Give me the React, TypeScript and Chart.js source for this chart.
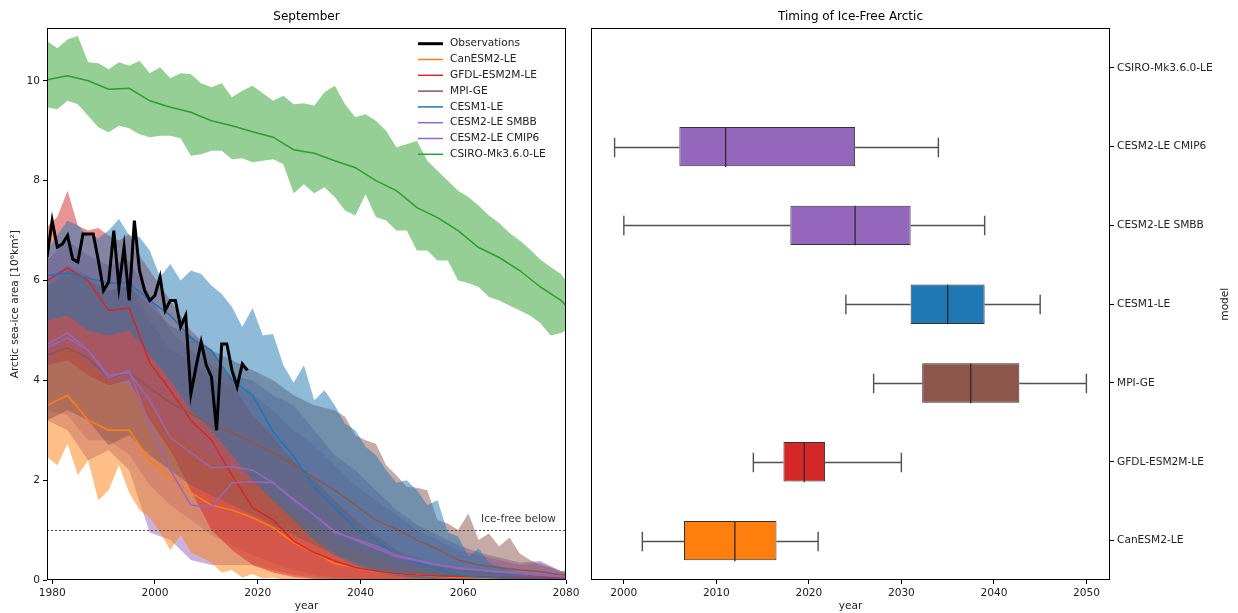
import React, { useEffect, useRef } from 'react';
import { Chart, registerables } from 'chart.js';
Chart.register(...registerables);

const FONT = 'DejaVu Sans';
const TXT = '#222';

// ---------------- Left panel data ----------------
const years = [1979, 1983, 1987, 1991, 1995, 1999, 2003, 2007, 2011, 2015, 2019, 2023, 2027, 2031, 2035, 2039, 2043, 2047, 2051, 2055, 2059, 2063, 2067, 2071, 2075, 2079, 2080];
const yearsFine = [1979, 1981, 1983, 1985, 1987, 1989, 1991, 1993, 1995, 1997, 1999, 2001, 2003, 2005, 2007, 2009, 2011, 2013, 2015, 2017, 2019, 2021, 2023, 2025, 2027, 2029, 2031, 2033, 2035, 2037, 2039, 2041, 2043, 2045, 2047, 2049, 2051, 2053, 2055, 2057, 2059, 2061, 2063, 2065, 2067, 2069, 2071, 2073, 2075, 2077, 2079, 2080];

const obsYears = [1979, 1980, 1981, 1982, 1983, 1984, 1985, 1986, 1987, 1988, 1989, 1990, 1991, 1992, 1993, 1994, 1995, 1996, 1997, 1998, 1999, 2000, 2001, 2002, 2003, 2004, 2005, 2006, 2007, 2008, 2009, 2010, 2011, 2012, 2013, 2014, 2015, 2016, 2017, 2018];
const obsValues = [6.47, 7.2, 6.67, 6.73, 6.9, 6.43, 6.37, 6.93, 6.93, 6.93, 6.4, 5.8, 5.97, 7.0, 5.87, 6.67, 5.6, 7.2, 6.2, 5.8, 5.6, 5.7, 6.07, 5.4, 5.6, 5.6, 5.07, 5.3, 3.73, 4.27, 4.77, 4.3, 4.07, 3.0, 4.73, 4.73, 4.2, 3.87, 4.33, 4.2];

// CanESM2-LE (low edge on the fine grid)
const canMean = [3.5, 3.7, 3.2, 3.0, 3.0, 2.4, 2.05, 1.75, 1.5, 1.4, 1.25, 1.05, 0.75, 0.55, 0.33, 0.25, 0.17, 0.13, 0.1, 0.07, 0.05, 0.04, 0.03, 0.03, 0.02, 0.02, 0.02];
const canLow = [2.47, 2.3, 2.73, 2.1, 2.4, 1.6, 1.8, 2.3, 1.75, 1.4, 1.25, 0.95, 0.6, 0.9, 0.55, 0.45, 0.35, 0.15, 0.2, 0.05, 0.12, 0.03, 0.05, 0, 0, 0, 0, 0, 0, 0, 0, 0, 0, 0, 0, 0, 0, 0, 0, 0, 0, 0, 0, 0, 0, 0, 0, 0, 0, 0, 0, 0];
const canHigh = [4.3, 4.7, 4.3, 4.0, 3.9, 3.5, 3.0, 2.7, 2.4, 2.2, 2.0, 1.7, 1.4, 1.1, 0.8, 0.6, 0.45, 0.3, 0.25, 0.2, 0.15, 0.1, 0.08, 0.06, 0.05, 0.05, 0.05];

// GFDL-ESM2M-LE (high edge on the fine grid)
const gfdlMean = [6.0, 6.25, 6.0, 5.4, 5.45, 4.35, 3.8, 3.2, 2.8, 2.1, 1.45, 1.2, 0.78, 0.55, 0.38, 0.25, 0.18, 0.13, 0.1, 0.08, 0.07, 0.06, 0.05, 0.05, 0.04, 0.04, 0.04];
const gfdlLow = [4.3, 4.4, 4.1, 3.9, 4.0, 3.2, 2.6, 1.8, 1.0, 0.6, 0.3, 0.15, 0.06, 0.02, 0, 0, 0, 0, 0, 0, 0, 0, 0, 0, 0, 0, 0];
const gfdlHigh = [7.07, 7.27, 7.8, 7.1, 7.0, 7.05, 6.9, 6.8, 6.93, 6.5, 6.2, 5.9, 5.6, 5.3, 5.0, 4.8, 4.6, 4.3, 4.0, 3.6, 3.3, 3.1, 2.9, 2.6, 2.4, 2.2, 2.0, 1.8, 1.6, 1.4, 1.2, 1.05, 0.9, 0.75, 0.6, 0.5, 0.45, 0.35, 0.3, 0.28, 0.25, 0.22, 0.2, 0.17, 0.15, 0.13, 0.12, 0.11, 0.1, 0.1, 0.1, 0.1];

// MPI-GE (high edge on the fine grid)
const mpiMean = [4.5, 4.65, 4.45, 4.05, 4.15, 3.85, 3.55, 3.33, 3.1, 2.95, 2.75, 2.55, 2.3, 2.05, 1.8, 1.5, 1.2, 1.02, 0.8, 0.62, 0.4, 0.3, 0.25, 0.2, 0.17, 0.1, 0.1];
const mpiLow = [3.2, 3.4, 3.2, 2.7, 2.9, 2.5, 2.2, 1.9, 1.7, 1.5, 1.3, 1.1, 0.9, 0.7, 0.5, 0.35, 0.2, 0.12, 0.05, 0.03, 0.02, 0.02, 0.02, 0.02, 0.02, 0.01, 0.01];
const mpiHigh = [5.9, 6.0, 6.2, 6.1, 6.0, 5.9, 5.8, 5.85, 5.9, 5.7, 5.5, 5.3, 5.1, 5.0, 4.9, 4.7, 4.6, 4.5, 4.4, 4.3, 4.2, 4.1, 4.0, 3.85, 3.7, 3.6, 3.5, 3.45, 3.4, 3.27, 2.9, 2.8, 2.73, 2.3, 2.1, 1.87, 1.85, 1.8, 1.2, 1.13, 1.0, 1.33, 0.8, 0.93, 0.67, 0.85, 0.53, 0.4, 0.3, 0.25, 0.17, 0.2];

// CESM1-LE (high edge on the fine grid)
const cesm1Mean = [6.1, 6.15, 6.05, 5.95, 5.95, 5.6, 5.3, 4.85, 4.6, 4.0, 3.7, 2.97, 2.48, 1.86, 1.45, 1.03, 0.8, 0.5, 0.35, 0.22, 0.1, 0.06, 0.04, 0.03, 0.02, 0.02, 0.02];
const cesm1Low = [5.2, 5.3, 5.0, 4.9, 5.0, 4.5, 4.0, 3.4, 3.0, 2.5, 2.0, 1.6, 1.2, 0.8, 0.5, 0.3, 0.15, 0.08, 0.04, 0.02, 0, 0, 0, 0, 0, 0, 0];
const cesm1High = [6.6, 6.9, 7.2, 7.1, 6.9, 6.85, 7.0, 7.23, 6.9, 6.87, 6.6, 6.07, 6.33, 6.0, 6.2, 6.13, 5.9, 5.73, 5.47, 5.07, 5.45, 4.9, 4.93, 4.3, 3.95, 4.3, 3.6, 3.8, 3.5, 3.13, 3.0, 2.67, 2.5, 2.2, 1.95, 2.0, 1.8, 1.5, 1.6, 0.95, 0.87, 0.47, 0.63, 0.35, 0.27, 0.2, 0.15, 0.13, 0.12, 0.1, 0.08, 0.08];

// CESM2-LE SMBB
const smbbMean = [4.72, 4.95, 4.6, 4.1, 4.15, 3.6, 2.85, 2.55, 2.25, 2.27, 2.2, 1.95, 1.6, 1.3, 0.95, 0.82, 0.68, 0.5, 0.4, 0.3, 0.25, 0.2, 0.17, 0.14, 0.1, 0.08, 0.07];
const smbbLow = [3.4, 3.3, 2.8, 2.8, 2.5, 1.9, 1.5, 1.2, 0.9, 0.7, 0.5, 0.35, 0.2, 0.1, 0.05, 0.02, 0.02, 0.01, 0, 0, 0, 0, 0, 0, 0, 0, 0];
const smbbHigh = [6.0, 6.3, 6.1, 5.8, 5.9, 5.2, 4.6, 4.4, 4.0, 3.9, 3.7, 3.4, 3.0, 2.7, 2.3, 1.9, 1.6, 1.3, 1.0, 0.8, 0.6, 0.5, 0.4, 0.3, 0.35, 0.18, 0.12];

// CESM2-LE CMIP6
const cmip6Mean = [4.65, 4.85, 4.6, 4.05, 4.2, 3.1, 2.2, 1.5, 1.45, 1.95, 1.97, 1.95, 1.62, 1.3, 0.98, 0.8, 0.63, 0.47, 0.38, 0.3, 0.23, 0.2, 0.16, 0.13, 0.1, 0.07, 0.07];
const cmip6Low = [3.2, 3.0, 2.4, 2.6, 2.2, 0.95, 0.8, 0.4, 0.3, 0.3, 0.3, 0.2, 0.1, 0.05, 0.02, 0.01, 0, 0, 0, 0, 0, 0, 0, 0, 0, 0, 0];
const cmip6High = [6.4, 6.8, 6.5, 6.3, 6.4, 5.7, 5.0, 4.6, 4.3, 4.1, 4.0, 3.7, 3.5, 3.0, 2.5, 2.2, 1.8, 1.4, 1.1, 0.9, 0.7, 0.55, 0.45, 0.35, 0.38, 0.18, 0.15];

// CSIRO-Mk3.6.0-LE (both edges on the fine grid)
const csiroMean = [10.02, 10.1, 10.0, 9.83, 9.85, 9.6, 9.47, 9.37, 9.2, 9.1, 8.98, 8.87, 8.62, 8.55, 8.4, 8.26, 8.0, 7.8, 7.46, 7.26, 7.0, 6.66, 6.46, 6.2, 5.87, 5.6, 5.5];
const csiroLow = [9.47, 9.43, 9.6, 9.53, 9.3, 9.07, 8.97, 9.1, 9.05, 8.93, 8.87, 8.9, 8.9, 8.85, 8.5, 8.53, 8.6, 8.6, 8.43, 8.45, 8.37, 8.4, 8.43, 8.33, 7.75, 7.93, 7.75, 7.87, 7.67, 7.4, 7.3, 7.73, 7.27, 7.2, 7.0, 7.0, 6.6, 6.6, 6.4, 6.4, 6.0, 5.95, 5.87, 5.67, 5.6, 5.5, 5.4, 5.3, 5.15, 4.9, 4.95, 5.0];
const csiroHigh = [10.8, 10.65, 10.83, 10.9, 10.37, 10.35, 10.23, 10.37, 10.3, 10.4, 10.15, 10.27, 10.05, 10.15, 10.13, 9.95, 9.87, 9.95, 9.67, 9.8, 9.9, 9.75, 9.6, 9.7, 9.53, 9.55, 9.5, 9.77, 9.9, 9.53, 9.27, 9.33, 9.2, 9.0, 8.67, 8.73, 8.8, 8.4, 8.2, 8.0, 7.8, 7.67, 7.5, 7.3, 7.15, 6.95, 6.8, 6.62, 6.42, 6.27, 6.13, 6.0];

const modelNames = ['CanESM2-LE', 'GFDL-ESM2M-LE', 'MPI-GE', 'CESM1-LE', 'CESM2-LE SMBB', 'CESM2-LE CMIP6', 'CSIRO-Mk3.6.0-LE'];
const modelColors = ['#ff7f0e', '#d62728', '#8c564b', '#1f77b4', '#9467bd', '#9467bd', '#2ca02c'];
const modelFills = ['rgba(255,127,14,0.5)', 'rgba(214,39,40,0.5)', 'rgba(140,86,75,0.5)', 'rgba(31,119,180,0.5)', 'rgba(148,103,189,0.5)', 'rgba(148,103,189,0.5)', 'rgba(44,160,44,0.5)'];
const modelMeans = [canMean, gfdlMean, mpiMean, cesm1Mean, smbbMean, cmip6Mean, csiroMean];
const modelLows = [canLow, gfdlLow, mpiLow, cesm1Low, smbbLow, cmip6Low, csiroLow];
const modelHighs = [canHigh, gfdlHigh, mpiHigh, cesm1High, smbbHigh, cmip6High, csiroHigh];
const modelLowYears = [yearsFine, years, years, years, years, years, yearsFine];
const modelHighYears = [years, yearsFine, yearsFine, yearsFine, years, years, yearsFine];
// stacking of the shaded bands, bottom first
const fillStack = ['CESM2-LE CMIP6', 'CESM2-LE SMBB', 'CanESM2-LE', 'GFDL-ESM2M-LE', 'MPI-GE', 'CESM1-LE', 'CSIRO-Mk3.6.0-LE'];

const leftXTicks = [1980, 2000, 2020, 2040, 2060, 2080];
const leftYTicks = [0, 2, 4, 6, 8, 10];
const iceFreeThreshold = 1;

// ---------------- Right panel data ----------------
const whiskerLow = [2002, 2014, 2027, 2024, 2000, 1999, null];
const boxQ1 = [2006.5, 2017.25, 2032.25, 2031, 2018, 2006, null];
const boxMedian = [2012, 2019.5, 2037.5, 2035, 2025, 2011, null];
const boxQ3 = [2016.5, 2021.75, 2042.75, 2039, 2031, 2025, null];
const whiskerHigh = [2021, 2030, 2050, 2045, 2039, 2034, null];
const rightXTicks = [2000, 2010, 2020, 2030, 2040, 2050];

const tickFont = { family: FONT, size: 10.6 };
const titleFont = { family: FONT, size: 12, weight: 'normal' as const };

const pts = (xs: number[], ys: number[]) => xs.map((x, i) => ({ x, y: ys[i] }));

function frame(chart: any) {
  const { ctx, chartArea: a } = chart;
  ctx.save();
  ctx.strokeStyle = '#000';
  ctx.lineWidth = 1;
  const l = Math.round(a.left) + 0.5, t = Math.round(a.top) + 0.5;
  const r = Math.round(a.right) - 0.5, b = Math.round(a.bottom) - 0.5;
  ctx.strokeRect(l, t, r - l, b - t);
  ctx.restore();
}

const leftPlugin = {
  id: 'leftExtras',
  afterDatasetsDraw(chart: any) {
    const { ctx, chartArea: a, scales } = chart;
    const yPix = scales.y.getPixelForValue(iceFreeThreshold);
    ctx.save();
    ctx.strokeStyle = '#444';
    ctx.lineWidth = 1;
    ctx.setLineDash([2, 2]);
    ctx.beginPath();
    ctx.moveTo(a.left, Math.round(yPix) + 0.5);
    ctx.lineTo(a.right, Math.round(yPix) + 0.5);
    ctx.stroke();
    ctx.setLineDash([]);
    ctx.fillStyle = '#333';
    ctx.font = `10.6px ${FONT}`;
    ctx.textAlign = 'right';
    ctx.textBaseline = 'middle';
    ctx.fillText('Ice-free below', a.right - 10, yPix - 11);
    const entries = [{ label: 'Observations', color: '#000', w: 3 }].concat(
      modelNames.map((n, i) => ({ label: n, color: modelColors[i], w: 1.5 }))
    );
    ctx.textAlign = 'left';
    ctx.fillStyle = TXT;
    entries.forEach((e, i) => {
      const y = a.top + 15.3 + i * 15.8;
      ctx.strokeStyle = e.color;
      ctx.lineWidth = e.w;
      ctx.beginPath();
      ctx.moveTo(a.right - 148, y);
      ctx.lineTo(a.right - 123, y);
      ctx.stroke();
      ctx.fillText(e.label, a.right - 116, y);
    });
    ctx.restore();
  },
  afterDraw(chart: any) {
    frame(chart);
  },
};

const rightPlugin = {
  id: 'rightExtras',
  afterDatasetsDraw(chart: any) {
    const { ctx, scales } = chart;
    const x = scales.x, y = scales.y;
    const cat = Math.abs(y.getPixelForValue(1) - y.getPixelForValue(0));
    ctx.save();
    for (let i = 0; i < modelNames.length; i++) {
      if (whiskerLow[i] == null) continue;
      const cy = Math.round(y.getPixelForValue(i)) + 0.5;
      const cap = cat * 0.125;
      const half = cat * 0.25;
      const xl = x.getPixelForValue(whiskerLow[i]);
      const x1 = x.getPixelForValue(boxQ1[i]);
      const x3 = x.getPixelForValue(boxQ3[i]);
      const xh = x.getPixelForValue(whiskerHigh[i]);
      const xm = x.getPixelForValue(boxMedian[i]);
      ctx.strokeStyle = '#505050';
      ctx.lineWidth = 1.4;
      ctx.beginPath();
      ctx.moveTo(xl, cy); ctx.lineTo(x1, cy);
      ctx.moveTo(x3, cy); ctx.lineTo(xh, cy);
      ctx.moveTo(xl, cy - cap); ctx.lineTo(xl, cy + cap);
      ctx.moveTo(xh, cy - cap); ctx.lineTo(xh, cy + cap);
      ctx.stroke();
      ctx.strokeStyle = '#2a2a2a';
      ctx.lineWidth = 1.3;
      ctx.beginPath();
      ctx.moveTo(xm, cy - half); ctx.lineTo(xm, cy + half);
      ctx.stroke();
    }
    ctx.restore();
  },
  afterDraw(chart: any) {
    frame(chart);
    const { ctx, chartArea: a } = chart;
    ctx.save();
    ctx.fillStyle = TXT;
    ctx.font = `10.6px ${FONT}`;
    ctx.textAlign = 'center';
    ctx.textBaseline = 'middle';
    ctx.translate(645, (a.top + a.bottom) / 2);
    ctx.rotate(-Math.PI / 2);
    ctx.fillText('model', 0, 0);
    ctx.restore();
  },
};

function axisCommon() {
  return {
    grid: { display: true, drawOnChartArea: false, drawTicks: true, tickLength: 4, tickColor: '#000', tickWidth: 1 },
    border: { display: false },
    ticks: { font: tickFont, color: TXT, padding: 3 },
  };
}

export default function App() {
  const leftRef = useRef<HTMLCanvasElement>(null);
  const rightRef = useRef<HTMLCanvasElement>(null);

  useEffect(() => {
    document.body.style.margin = '0';
    const datasets: any[] = [];
    datasets.push({
      label: 'Observations',
      data: pts(obsYears, obsValues),
      borderColor: '#000',
      borderWidth: 3,
      pointRadius: 0,
      fill: false,
      order: 0,
    });
    modelNames.forEach((name, k) => {
      const stackPos = fillStack.indexOf(name);
      const lowIdx = datasets.length;
      datasets.push({
        label: '',
        data: pts(modelLowYears[k], modelLows[k]),
        borderColor: 'rgba(0,0,0,0)',
        borderWidth: 0,
        pointRadius: 0,
        fill: false,
        order: 100 - stackPos,
      });
      datasets.push({
        label: '',
        data: pts(modelHighYears[k], modelHighs[k]),
        borderColor: 'rgba(0,0,0,0)',
        borderWidth: 0,
        pointRadius: 0,
        fill: lowIdx,
        backgroundColor: modelFills[k],
        order: 100 - stackPos,
      });
      datasets.push({
        label: name,
        data: pts(years, modelMeans[k]),
        borderColor: modelColors[k],
        borderWidth: 1.5,
        pointRadius: 0,
        fill: false,
        order: 50 - k,
      });
    });

    const lc = axisCommon();
    const left = new Chart(leftRef.current!, {
      type: 'line',
      data: { datasets },
      options: {
        animation: false,
        responsive: false,
        layout: { padding: { left: 0, right: 14, top: 0, bottom: 0 } },
        plugins: {
          legend: { display: false },
          tooltip: { enabled: false },
          title: { display: true, text: 'September', font: titleFont, color: '#000', fullSize: false, padding: { top: 10, bottom: 4 } },
        },
        scales: {
          x: {
            type: 'linear', min: 1979, max: 2080,
            ...lc,
            ticks: { ...lc.ticks, callback: (v: any) => String(v), maxRotation: 0 },
            afterBuildTicks: (s: any) => { s.ticks = leftXTicks.map((v) => ({ value: v })); },
            afterFit: (s: any) => { s.height = 33; s.paddingRight = 0; s.paddingLeft = 0; },
            title: { display: true, text: 'year', font: tickFont, color: TXT, padding: { top: 0, bottom: 0 } },
          },
          y: {
            type: 'linear', min: 0, max: 11.05,
            ...lc,
            ticks: { ...lc.ticks, callback: (v: any) => String(v) },
            afterBuildTicks: (s: any) => { s.ticks = leftYTicks.map((v) => ({ value: v })); },
            afterFit: (s: any) => { s.width = 47; s.paddingTop = 0; s.paddingBottom = 0; },
            title: { display: true, text: 'Arctic sea-ice area [10⁶km²]', font: tickFont, color: TXT, padding: { top: 9, bottom: 0 } },
          },
        },
      } as any,
      plugins: [leftPlugin],
    });

    const rc = axisCommon();
    const right = new Chart(rightRef.current!, {
      type: 'bar',
      data: {
        labels: modelNames,
        datasets: [{
          data: modelNames.map((_, i) => (boxQ1[i] == null ? null : [boxQ1[i], boxQ3[i]])) as any,
          backgroundColor: modelColors,
          borderColor: '#333',
          borderWidth: 1,
          borderSkipped: false,
          categoryPercentage: 1,
          barPercentage: 0.5,
        }],
      },
      options: {
        animation: false,
        responsive: false,
        indexAxis: 'y',
        layout: { padding: { left: 11, right: 0, top: 0, bottom: 0 } },
        plugins: {
          legend: { display: false },
          tooltip: { enabled: false },
          title: { display: true, text: 'Timing of Ice-Free Arctic', font: titleFont, color: '#000', fullSize: false, padding: { top: 10, bottom: 4 } },
        },
        scales: {
          x: {
            type: 'linear', min: 1996.45, max: 2052.55,
            ...rc,
            ticks: { ...rc.ticks, callback: (v: any) => String(v), maxRotation: 0 },
            afterBuildTicks: (s: any) => { s.ticks = rightXTicks.map((v) => ({ value: v })); },
            afterFit: (s: any) => { s.height = 33; s.paddingRight = 0; s.paddingLeft = 0; },
            title: { display: true, text: 'year', font: tickFont, color: TXT, padding: { top: 0, bottom: 0 } },
          },
          y: {
            type: 'category', position: 'right', reverse: true, offset: true,
            ...rc,
            grid: { ...rc.grid, offset: false },
            afterFit: (s: any) => { s.width = 128; s.paddingTop = 0; s.paddingBottom = 0; },
          },
        },
      } as any,
      plugins: [rightPlugin],
    });

    return () => { left.destroy(); right.destroy(); };
  }, []);

  return (
    <div style={{ position: 'absolute', left: 0, top: 0, width: 1238, height: 613, background: '#fff' }}>
      <canvas ref={leftRef} width={580} height={613} style={{ position: 'absolute', left: 0, top: 0, width: 580, height: 613 }} />
      <canvas ref={rightRef} width={658} height={613} style={{ position: 'absolute', left: 580, top: 0, width: 658, height: 613 }} />
    </div>
  );
}
